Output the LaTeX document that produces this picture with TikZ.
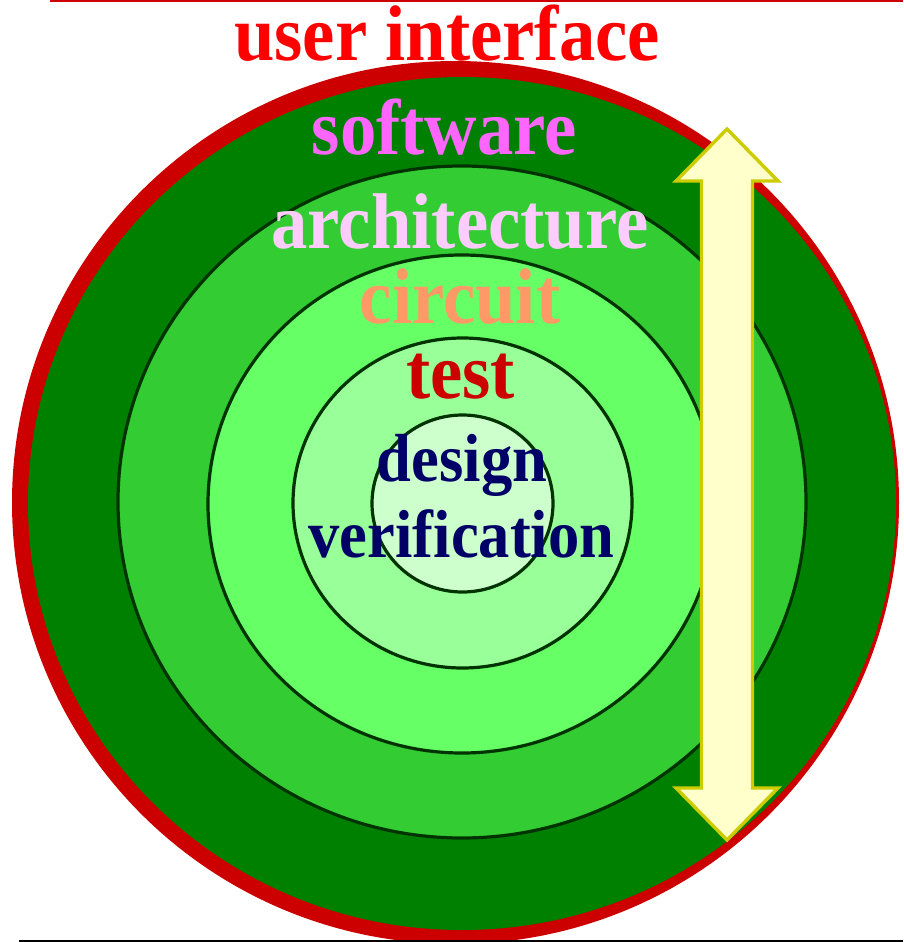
\documentclass[tikz,border=0pt]{standalone}
\usepackage{fontspec}
\setmainfont{Liberation Serif}
\definecolor{ringred}{HTML}{CC0000}
\definecolor{g1}{HTML}{008000}
\definecolor{g2}{HTML}{33CC33}
\definecolor{g3}{HTML}{66FF66}
\definecolor{g4}{HTML}{99FF99}
\definecolor{g5}{HTML}{CCFFCC}
\definecolor{ringline}{HTML}{003300}
\definecolor{arrfill}{HTML}{FFFFCC}
\definecolor{arrline}{HTML}{CCCC00}
\definecolor{cUI}{HTML}{FF0000}
\definecolor{cSW}{HTML}{FF66FF}
\definecolor{cAR}{HTML}{FFCCFF}
\definecolor{cCI}{HTML}{FF9966}
\definecolor{cTE}{HTML}{CC0000}
\definecolor{cDV}{HTML}{000066}
\definecolor{baseline}{HTML}{2E4450}
\tikzset{
  ring/.style={draw=ringline, line width=3.2pt},
  biglbl/.style={anchor=base, inner sep=0pt, font=\fontsize{79}{79}\selectfont\bfseries},
  smalllbl/.style={anchor=base, inner sep=0pt, font=\fontsize{68}{68}\selectfont\bfseries},
}
\begin{document}
\begin{tikzpicture}[x=1pt,y=-1pt]
\useasboundingbox (0,0) rectangle (903,942);
% outer ring and disk
\fill[ringred] (455.5,502.5) ellipse [x radius=443.5pt, y radius=441.5pt];
\fill[g1] (462,503.5) ellipse [x radius=434pt, y radius=426.5pt];
% nested rings
\filldraw[ring, fill=g2] (462,502) ellipse [x radius=344pt, y radius=336pt];
\filldraw[ring, fill=g3] (462,504) ellipse [x radius=254pt, y radius=249pt];
\filldraw[ring, fill=g4] (462.5,503) ellipse [x radius=169.5pt, y radius=165pt];
\filldraw[ring, fill=g5] (462.5,503.5) ellipse [x radius=90.5pt, y radius=88.5pt];
% double arrow
\filldraw[fill=arrfill, draw=arrline, line width=3.4pt]
  (727,129) -- (778,181) -- (752.5,181) -- (752.5,788) -- (778,788) -- (727,840)
  -- (676,788) -- (701.5,788) -- (701.5,181) -- (676,181) -- cycle;
% rules
\draw[ringred, line width=2pt] (50,1) -- (903,1);
\draw[baseline, line width=2pt] (19,940.5) -- (903,940.5);
% labels
\node[biglbl, text=cUI, text height=52pt] (ui) at (447,60) {\scalebox{0.92}[1]{user interface}};
\node[biglbl, text=cSW] (sw) at (444.5,154) {\scalebox{0.92}[1]{software}};
\node[biglbl, text=cAR] (ar) at (460,248) {\scalebox{0.92}[1]{architecture}};
\node[biglbl, text=cCI] (ci) at (460,323) {\scalebox{0.92}[1]{circuit}};
\node[biglbl, text=cTE] (te) at (460.5,398) {\scalebox{0.92}[1]{test}};
\node[smalllbl, text=cDV] (de) at (462,481) {\scalebox{0.92}[1]{design}};
\node[smalllbl, text=cDV] (ve) at (461.5,557) {\scalebox{0.92}[1]{verification}};
\end{tikzpicture}
\end{document}
